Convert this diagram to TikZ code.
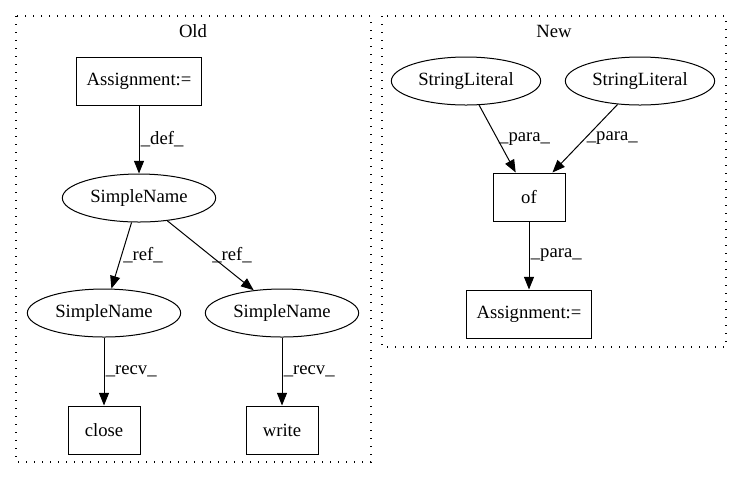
\documentclass[tikz,border=0pt]{standalone}
\usepackage{fontspec}
\setmainfont{Liberation Serif}
\usetikzlibrary{shapes.geometric, arrows.meta, positioning}
\tikzstyle{block} = [rectangle, minimum width=54pt, minimum height=36pt, text centered, draw=black, line width=0.75pt, inner sep=0pt, font=\fontsize{14}{16}\selectfont]
\tikzstyle{oval} = [ellipse, minimum width=115pt, minimum height=36pt, text centered, draw=black, line width=0.75pt, inner sep=0pt, font=\fontsize{14}{16}\selectfont]
\tikzstyle{arrow} = [line width=0.75pt, -{Triangle[length=9.5pt, width=7.5pt]}]
\tikzstyle{elabel} = [anchor=west, inner sep=1pt, font=\fontsize{14}{16}\selectfont]
\tikzstyle{cluster} = [draw=black, line width=1pt, dash pattern=on 1pt off 5pt]

\begin{document}
\begin{tikzpicture}[x=0.75pt, y=-0.75pt, node distance=51pt]
\useasboundingbox (0,0) rectangle (741,480);

% Clusters
\draw [cluster] (16,16) rectangle (371,462);
\draw [cluster] (382,16) rectangle (726,347);
\node (oldtitle) [elabel, anchor=center] at (193,31) {Old};
\node (newtitle) [elabel, anchor=center] at (554,31) {New};

% Old side
\node (assign) [block, minimum width=94pt] at (139,81) {Assignment:=};
\node (name) [oval, below=of assign] {SimpleName};
\node (nameclose) [oval] at (104,313) {SimpleName};
\node (namewrite) [oval] at (282,313) {SimpleName};
\node (close) [block, below=of nameclose] {close};
\node (write) [block, below=of namewrite] {write};

% New side
\node (lit1) [oval, minimum width=112pt] at (466,81) {StringLiteral};
\node (lit2) [oval, minimum width=112pt] at (640,81) {StringLiteral};
\node (ofcall) [block] at (529,197) {of};
\node (assign2) [block, minimum width=94pt, below=of ofcall] {Assignment:=};

% Arrows
\draw [arrow] (assign) -- node[elabel] {\_def\_} (name);
\draw [arrow] (name) -- node[elabel] {\_ref\_} (nameclose);
\draw [arrow] (name) -- node[elabel] {\_ref\_} (namewrite);
\draw [arrow] (nameclose) -- node[elabel] {\_recv\_} (close);
\draw [arrow] (namewrite) -- node[elabel] {\_recv\_} (write);
\draw [arrow] (lit1) -- node[elabel] {\_para\_} (ofcall);
\draw [arrow] (lit2) -- node[elabel] {\_para\_} (ofcall);
\draw [arrow] (ofcall) -- node[elabel] {\_para\_} (assign2);

\end{tikzpicture}
\end{document}
